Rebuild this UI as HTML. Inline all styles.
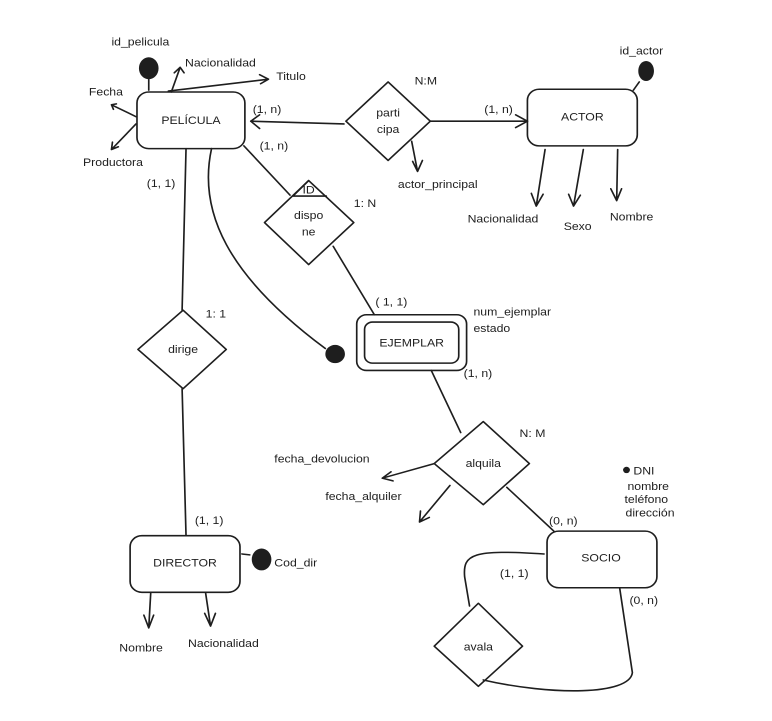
<!DOCTYPE html>
<html><head><meta charset="utf-8"><style>
html,body{margin:0;padding:0;background:#fff;}
svg{display:block;}
text{font-family:"Liberation Sans",sans-serif;font-size:12.5px;fill:#1e1e1e;}
.c{text-anchor:middle;}
</style></head><body>
<svg width="772" height="721" viewBox="0 0 772 721" xmlns="http://www.w3.org/2000/svg">
<g transform="matrix(0.981,0,0,0.913,1.6,1.6)">
<g fill="none" stroke="#1e1e1e" stroke-width="1.7" stroke-linecap="round" stroke-linejoin="round">
<rect x="138" y="99" width="110" height="62" rx="12"/>
<rect x="536" y="96" width="112" height="62" rx="12"/>
<rect x="362" y="343" width="112" height="61" rx="10"/>
<rect x="370" y="351" width="96" height="45" rx="8"/>
<rect x="131" y="585" width="112" height="62" rx="12"/>
<rect x="556" y="580" width="112" height="62" rx="12"/>
<path d="M394,88 L437,131 L394,174 L351,131 Z"/>
<path d="M313,196 L359,242 L313,288 L268,242 Z"/>
<path d="M313,196 L297,213 L331,213"/>
<path d="M185,338 L229,381 L185,424 L139,381 Z"/>
<path d="M491,460 L538,506 L491,551 L441,506 Z"/>
<path d="M486,659 L531,706 L486,750 L441,706 Z"/>
<path d="M349,134 L254,131"/>
<path d="M263,124 L254,131 L263,139"/>
<path d="M437,131 L536,131"/>
<path d="M524,124 L536,131 L524,138"/>
<path d="M247,158 L294,212"/>
<path d="M338,268 L380,343"/>
<path d="M188,161 L184,338"/>
<path d="M184,424 L188,585"/>
<path d="M214,161 C200,230 230,300 330,380"/>
<path d="M438,404 L468,472"/>
<path d="M515,532 L563,580"/>
<path d="M553,605 C480,600 470,605 472,630 L477,662"/>
<path d="M491,743 C560,760 640,760 643,735 L630,642"/>
<path d="M150,97 L150,82"/>
<path d="M173,99 L182,72 M176,78 L182,72 L186,78"/>
<path d="M170,98 L272,85 M263,80 L272,85 L264,90"/>
<path d="M137,126 L112,113 M117,112 L112,113 L114,118"/>
<path d="M137,134 L112,162 M113,154 L112,162 L119,159"/>
<path d="M418,153 L424,186 M419,175 L424,186 L429,174"/>
<path d="M554,162 L545,224 M540,210 L545,224 L552,211"/>
<path d="M593,162 L583,224 M578,211 L583,224 L590,212"/>
<path d="M628,162 L627,218 M621,205 L627,218 L632,205"/>
<path d="M650,88 L644,97"/>
<path d="M152,648 L150,686 M145,672 L150,686 L155,672"/>
<path d="M208,648 L213,684 M207,670 L213,684 L218,670"/>
<path d="M245,605 L253,606"/>
<path d="M441,506 L388,522 M397,515 L388,522 L399,525"/>
<path d="M457,530 L426,570 M427,558 L426,570 L436,565"/>
</g>
<g fill="#1e1e1e">
<ellipse cx="150" cy="73" rx="10" ry="12"/>
<ellipse cx="657" cy="76" rx="8" ry="11"/>
<circle cx="340" cy="386" r="10"/>
<ellipse cx="265" cy="611" rx="10" ry="12"/>
<circle cx="637" cy="513" r="3.5"/>
</g>
<text x="193" y="134" class="c" font-size="13.5">PELÍCULA</text>
<text x="592" y="130" class="c" font-size="13.5">ACTOR</text>
<text x="418" y="378" class="c" font-size="13.5">EJEMPLAR</text>
<text x="187" y="619" class="c" font-size="13.5">DIRECTOR</text>
<text x="611" y="613" class="c" font-size="13.5">SOCIO</text>
<text x="394" y="126" class="c">parti</text>
<text x="394" y="144" class="c">cipa</text>
<text x="313" y="210" class="c">ID</text>
<text x="313" y="238" class="c">dispo</text>
<text x="313" y="256" class="c">ne</text>
<text x="185" y="385" class="c">dirige</text>
<text x="491" y="510" class="c">alquila</text>
<text x="486" y="711" class="c">avala</text>
<text x="112" y="48">id_pelicula</text>
<text x="187" y="71">Nacionalidad</text>
<text x="280" y="86">Titulo</text>
<text x="89" y="103">Fecha</text>
<text x="83" y="180">Productora</text>
<text x="256" y="122">(1, n)</text>
<text x="263" y="162">(1, n)</text>
<text x="148" y="203">(1, 1)</text>
<text x="421" y="91">N:M</text>
<text x="492" y="122">(1, n)</text>
<text x="404" y="204">actor_principal</text>
<text x="630" y="58">id_actor</text>
<text x="475" y="242">Nacionalidad</text>
<text x="573" y="250">Sexo</text>
<text x="620" y="240">Nombre</text>
<text x="359" y="225">1: N</text>
<text x="208" y="346">1: 1</text>
<text x="381" y="333">( 1, 1)</text>
<text x="481" y="344">num_ejemplar</text>
<text x="481" y="362">estado</text>
<text x="471" y="411">(1, n)</text>
<text x="528" y="477">N: M</text>
<text x="278" y="505">fecha_devolucion</text>
<text x="330" y="546">fecha_alquiler</text>
<text x="644" y="518">DNI</text>
<text x="638" y="535">nombre</text>
<text x="635" y="549">teléfono</text>
<text x="636" y="564">dirección</text>
<text x="558" y="573">(0, n)</text>
<text x="508" y="630">(1, 1)</text>
<text x="640" y="660">(0, n)</text>
<text x="197" y="572">(1, 1)</text>
<text x="278" y="619">Cod_dir</text>
<text x="120" y="712">Nombre</text>
<text x="190" y="707">Nacionalidad</text>
</g>
</svg>
</body></html>
